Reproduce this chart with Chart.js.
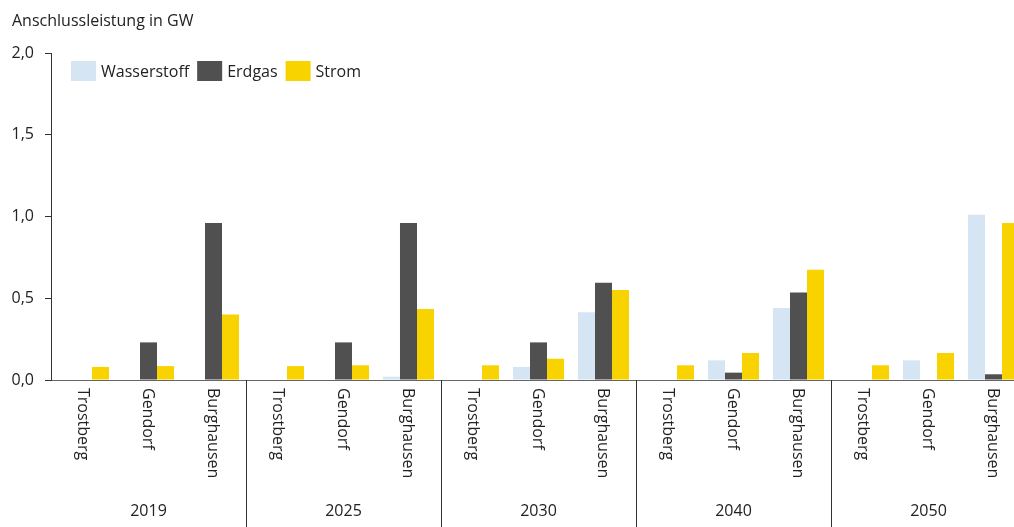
<!DOCTYPE html>
<html>
<head>
<meta charset="utf-8">
<script src="https://cdn.jsdelivr.net/npm/chart.js@4/dist/chart.umd.min.js"></script>
<style>
  body { margin: 0; overflow: hidden; background: #fff; }
  #wrap { width: 1030px; height: 527px; }
</style>
</head>
<body>
<div id="wrap"><canvas id="chart" width="1030" height="527"></canvas></div>
<script>
const years = ['2019', '2025', '2030', '2040', '2050'];
const sites = ['Trostberg', 'Gendorf', 'Burghausen'];
const categories = years.flatMap(() => sites);

// Anschlussleistung in GW
const wasserstoff = [0, 0, 0,    0, 0, 0.02,     0, 0.08, 0.415,  0, 0.12, 0.44,   0, 0.12, 1.01];
const erdgas      = [0, 0.23, 0.96, 0, 0.23, 0.96, 0, 0.23, 0.595,  0, 0.045, 0.535, 0, 0, 0.035];
const strom       = [0.08, 0.085, 0.40, 0.085, 0.09, 0.435, 0.09, 0.13, 0.55, 0.09, 0.165, 0.675, 0.09, 0.165, 0.96];

const yTicks = [0, 0.5, 1, 1.5, 2];

const FONT = '"Open Sans", sans-serif';
const TEXT = '#222';

const extras = {
  id: 'extras',
  afterDraw(chart) {
    const ctx = chart.ctx;
    const x = chart.scales.x;
    const area = chart.chartArea;
    const half = (x.getPixelForValue(1) - x.getPixelForValue(0)) / 2;
    ctx.save();
    ctx.fillStyle = TEXT;

    // title
    ctx.font = '16px ' + FONT;
    ctx.textAlign = 'left';
    ctx.textBaseline = 'alphabetic';
    ctx.fillText('Anschlussleistung in GW', 12, 26);

    // legend
    ctx.textBaseline = 'middle';
    let lx = 71;
    chart.data.datasets.forEach(ds => {
      ctx.fillStyle = ds.backgroundColor;
      ctx.fillRect(lx, 61, 25, 20);
      ctx.fillStyle = TEXT;
      ctx.fillText(ds.label, lx + 30, 72);
      lx += 30 + ctx.measureText(ds.label).width + 8;
    });

    // rotated site labels
    categories.forEach((c, i) => {
      const px = x.getPixelForValue(i);
      ctx.save();
      ctx.translate(px - 1, area.bottom + 8);
      ctx.rotate(Math.PI / 2);
      ctx.textAlign = 'left';
      ctx.textBaseline = 'middle';
      ctx.fillText(c, 0, 0);
      ctx.restore();
    });

    // group separators + year labels
    ctx.strokeStyle = '#333';
    ctx.lineWidth = 1;
    ctx.textAlign = 'center';
    ctx.textBaseline = 'middle';
    years.forEach((yr, g) => {
      const left = x.getPixelForValue(g * 3) - half;
      const right = x.getPixelForValue(g * 3 + 2) + half;
      if (g > 0) {
        ctx.beginPath();
        ctx.moveTo(Math.round(left) + 0.5, area.bottom);
        ctx.lineTo(Math.round(left) + 0.5, chart.height);
        ctx.stroke();
      }
      ctx.fillText(yr, (left + right) / 2, 511);
    });
    ctx.restore();
  }
};

new Chart(document.getElementById('chart'), {
  type: 'bar',
  data: {
    labels: categories,
    datasets: [
      { label: 'Wasserstoff', data: wasserstoff, backgroundColor: '#d5e5f4' },
      { label: 'Erdgas', data: erdgas, backgroundColor: '#505050' },
      { label: 'Strom', data: strom, backgroundColor: '#f8d300' }
    ]
  },
  options: {
    responsive: false,
    animation: false,
    devicePixelRatio: 1,
    layout: { padding: { top: 53, right: 4, left: 0, bottom: 0 } },
    datasets: { bar: { categoryPercentage: 0.785, barPercentage: 1 } },
    plugins: {
      legend: { display: false },
      tooltip: { enabled: false }
    },
    scales: {
      x: {
        grid: { display: false },
        ticks: { display: false },
        border: { display: true, color: '#666', width: 1 },
        afterFit: s => { s.height = 147; }
      },
      y: {
        min: 0,
        max: 2,
        afterBuildTicks: s => { s.ticks = yTicks.map(v => ({ value: v })); },
        grid: { display: true, drawOnChartArea: false, drawTicks: true, tickLength: 6, color: '#333' },
        border: { display: true, color: '#333', width: 1 },
        ticks: {
          padding: 11,
          color: TEXT,
          font: { family: FONT, size: 16 },
          callback: v => v.toFixed(1).replace('.', ',')
        },
        afterFit: s => { s.width = 51; }
      }
    }
  },
  plugins: [extras]
});
</script>
</body>
</html>
